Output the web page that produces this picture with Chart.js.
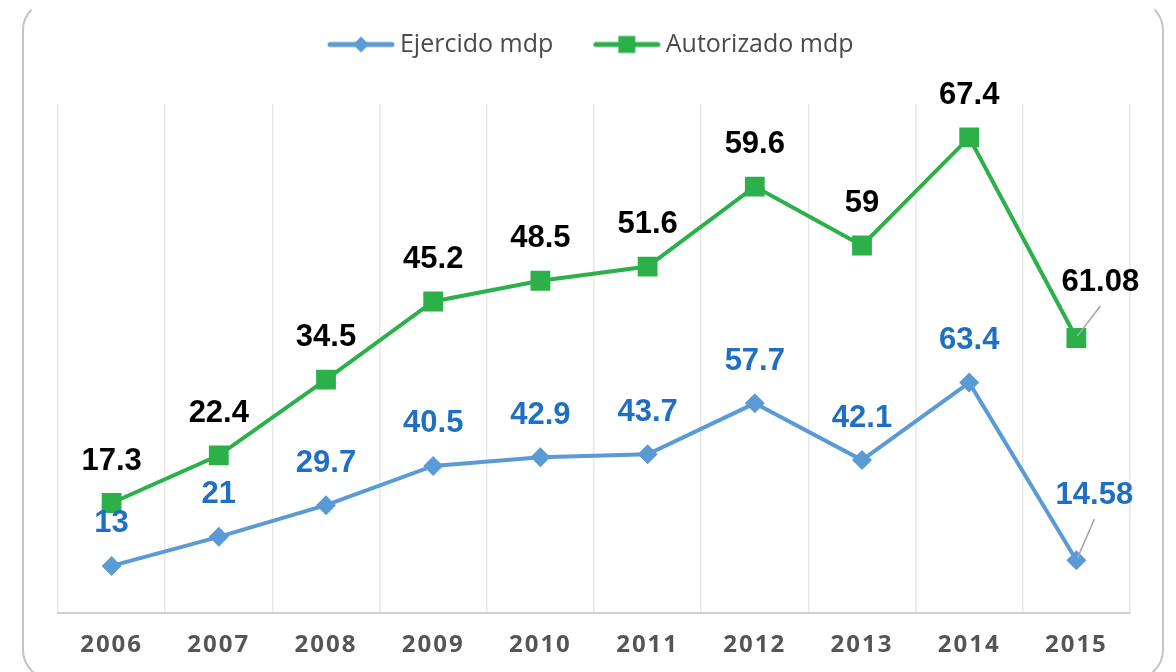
<!DOCTYPE html>
<html>
<head>
<meta charset="utf-8">
<script src="https://cdn.jsdelivr.net/npm/chart.js@4/dist/chart.umd.min.js"></script>
<style>
  html, body { margin: 0; padding: 0; background: #fff; overflow: hidden; }
  #wrap { position: relative; width: 1176px; height: 672px; }
  #frame {
    position: absolute; left: 22px; top: 0; width: 1142px; height: 680px;
    border: 2px solid #c4c4c4; border-top-color: transparent; border-radius: 30px;
    box-sizing: border-box;
  }
  canvas { position: absolute; left: 0; top: 0; }
</style>
</head>
<body>
<div id="wrap">
  <div id="frame"></div>
  <canvas id="chart" width="1176" height="672"></canvas>
</div>
<script>
// values
var years = ['2006', '2007', '2008', '2009', '2010', '2011', '2012', '2013', '2014', '2015'];
var ejercido = [13, 21, 29.7, 40.5, 42.9, 43.7, 57.7, 42.1, 63.4, 14.58];
var autorizado = [17.3, 22.4, 34.5, 45.2, 48.5, 51.6, 59.6, 59, 67.4, 61.08];

var blue = '#5b9bd5';
var green = '#2bb04a';

// legend icons: a short line with the marker on it
function legendIcon(color, style) {
    var c = document.createElement('canvas');
    c.width = 68; c.height = 22;
    var g = c.getContext('2d');
    g.strokeStyle = color; g.fillStyle = color;
    g.lineWidth = 5; g.lineCap = 'round';
    g.beginPath(); g.moveTo(3, 11); g.lineTo(65, 11); g.stroke();
    g.beginPath();
    if (style === 'diamond') {
        g.moveTo(34, 3); g.lineTo(42, 11); g.lineTo(34, 19); g.lineTo(26, 11);
    } else {
        g.rect(25.5, 2.5, 17, 17);
    }
    g.closePath(); g.fill();
    return c;
}
var icons = [legendIcon(blue, 'diamond'), legendIcon(green, 'square')];

// data labels drawn above each point
var pointLabels = {
    id: 'pointLabels',
    beforeInit: function(chart) {
        if (!chart.legend) return;
        var fit = chart.legend.fit;
        chart.legend.fit = function() {
            fit.call(this);
            this.height = 119;
        };
    },
    beforeDraw: function(chart) {
        chart.ctx.letterSpacing = '0px';
    },
    afterDatasetsDraw: function(chart) {
        var ctx = chart.ctx;
        ctx.save();
        ctx.font = 'bold 31px "Liberation Sans", Arial, sans-serif';
        ctx.textAlign = 'center';
        ctx.textBaseline = 'middle';
        chart.data.datasets.forEach(function(ds, di) {
            var meta = chart.getDatasetMeta(di);
            meta.data.forEach(function(pt, i) {
                var shift = (ds.labelShift && ds.labelShift[i]) || [0, -42];
                var lx = pt.x + shift[0], ly = pt.y + shift[1];
                if (ds.labelShift && ds.labelShift[i]) {
                    ctx.strokeStyle = '#a6a6a6';
                    ctx.lineWidth = 1.5;
                    ctx.beginPath();
                    ctx.moveTo(lx, ly + 24);
                    ctx.lineTo(pt.x + 1, pt.y - 2);
                    ctx.stroke();
                }
                ctx.fillStyle = ds.labelColor;
                ctx.fillText(String(ds.data[i]), lx, ly);
            });
        });
        ctx.restore();
        ctx.letterSpacing = '2px';
    },
    afterDraw: function(chart) {
        chart.ctx.letterSpacing = '0px';
    }
};

new Chart(document.getElementById('chart').getContext('2d'), {
    type: 'line',
    data: {
        labels: years,
        datasets: [{
            label: 'Ejercido mdp',
            data: ejercido,
            borderColor: blue,
            backgroundColor: blue,
            borderWidth: 4,
            pointStyle: 'rectRot',
            pointRadius: 10,
            pointBorderWidth: 0,
            fill: false,
            tension: 0,
            labelColor: '#1f6fc2',
            labelShift: { 9: [18, -65] }
        }, {
            label: 'Autorizado mdp',
            data: autorizado,
            borderColor: green,
            backgroundColor: green,
            borderWidth: 4,
            pointStyle: 'rect',
            pointRadius: 14,
            pointBorderWidth: 0,
            fill: false,
            tension: 0,
            labelColor: '#000000',
            labelShift: { 9: [24, -56] }
        }]
    },
    options: {
        responsive: false,
        animation: false,
        devicePixelRatio: 1,
        layout: { padding: { left: 58, right: 46, top: -15, bottom: -6 } },
        plugins: {
            legend: {
                display: true,
                position: 'top',
                labels: {
                    usePointStyle: true,
                    pointStyleWidth: 53,
                    padding: 47,
                    color: '#4a4a4a',
                    font: { family: '"Open Sans", sans-serif', size: 25 },
                    generateLabels: function(chart) {
                        var items = Chart.defaults.plugins.legend.labels.generateLabels(chart);
                        items.forEach(function(it, i) { it.pointStyle = icons[i]; });
                        return items;
                    }
                }
            },
            tooltip: { enabled: false }
        },
        scales: {
            x: {
                offset: true,
                grid: { offset: true, color: '#e8e8e8', lineWidth: 1.5, drawTicks: false },
                border: { color: '#d0d0d0', width: 2 },
                ticks: {
                    z: 1,
                    padding: 18,
                    color: '#555555',
                    font: { family: '"Open Sans", sans-serif', size: 24, weight: 'bold' }
                }
            },
            y: {
                display: false,
                stacked: true,
                min: 0,
                max: 140
            }
        }
    },
    plugins: [pointLabels]
});
</script>
</body>
</html>
